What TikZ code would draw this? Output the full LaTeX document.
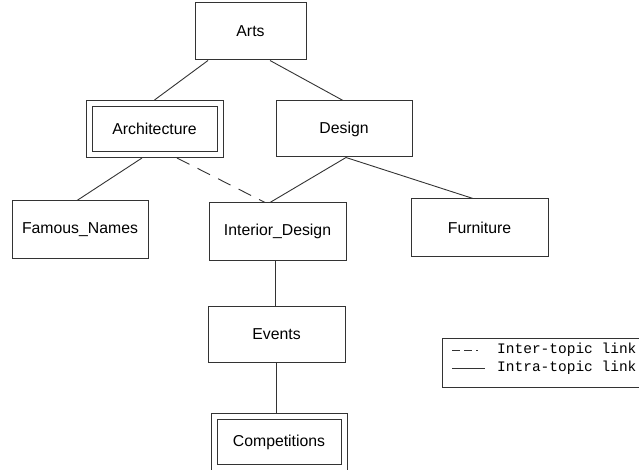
\documentclass[tikz,border=0pt]{standalone}
\usepackage{fontspec}
\setmainfont{Liberation Sans}
\newfontfamily\legendfont{Liberation Mono}
\usepackage{tikz}
\usetikzlibrary{positioning}

\begin{document}
\begin{tikzpicture}[x=1pt, y=-1pt,
  topic/.style={draw=black!80, line width=1pt, minimum height=57pt,
    inner sep=0pt, font=\fontsize{15.8}{18}\selectfont},
  hub/.style={topic, double, double distance=5pt, outer sep=3.5pt,
    minimum height=51pt},
  intra/.style={draw=black!80, line width=.9pt},
  inter/.style={intra, dash pattern=on 14pt off 9pt}
  ]
  \useasboundingbox (0,0) rectangle (639,470);
  \node[topic, minimum width=111pt] (arts)   at (250.5,31.5) {Arts};
  \node[hub,   minimum width=131pt] (arch)   at (154.5,129)  {Architecture};
  \node[topic, minimum width=136pt, minimum height=56pt] (design) at (344,129) {Design};
  \node[topic, minimum width=136pt] (famous) at (80,229.5)   {Famous\_Names};
  \node[topic, minimum width=137pt] (intd)   at (277.5,231.5) {Interior\_Design};
  \node[topic, minimum width=137pt] (furn)   at (479.5,227.5) {Furniture};
  \node[topic, minimum width=137pt, minimum height=56pt] (events) at (276.5,334) {Events};
  \node[hub,   minimum width=130pt] (comp)   at (279,442)    {Competitions};

  \draw[intra] ([xshift=-42.5pt]arts.south) -- (arch.north);
  \draw[intra] ([xshift=19.5pt]arts.south) -- ([xshift=-1pt]design.north);
  \draw[intra] ([xshift=2pt]design.south) -- ([xshift=-7.5pt]intd.north);
  \draw[intra] ([xshift=2pt]design.south) -- ([xshift=-6.5pt]furn.north);
  \draw[intra] ([xshift=-12.5pt]arch.south) -- ([xshift=-3pt]famous.north);
  \draw[inter] ([xshift=22.5pt]arch.south) -- ([xshift=-12.5pt]intd.north);
  \draw[intra] ([xshift=-2pt]intd.south) -- ([xshift=-2pt]intd.south |- events.north);
  \draw[intra] (events.south) -- (events.south |- comp.north);

  % legend
  \draw[draw=black!80, line width=1pt] (442,338) rectangle (660,387);
  \coordinate (da) at (452,350);
  \coordinate (db) at (485,350);
  \coordinate (sa) at (452,368);
  \coordinate (sb) at (485,368);
  \draw[intra, dash pattern=on 8pt off 4pt on 8pt off 4pt on 1.5pt] (da) -- (db);
  \draw[intra] (sa) -- (sb);
  \node[anchor=west, inner sep=0pt, font=\legendfont\fontsize{14.5}{16}\selectfont]
    (interlbl) at (497,350) {Inter-topic link};
  \node[anchor=west, inner sep=0pt, font=\legendfont\fontsize{14.5}{16}\selectfont]
    (intralbl) at (497,368) {Intra-topic link};
\end{tikzpicture}
\end{document}
